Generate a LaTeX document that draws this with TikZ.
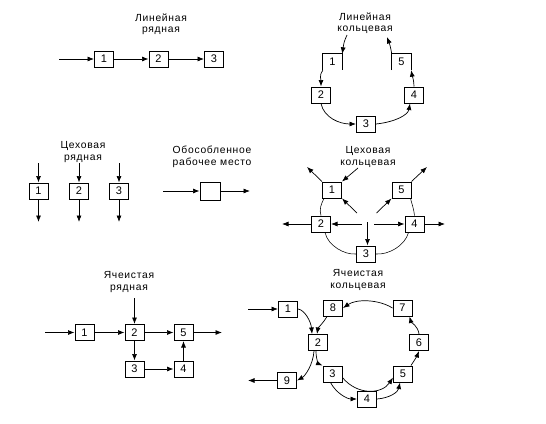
\documentclass[tikz,border=0pt]{standalone}
\usepackage{fontspec}
\setmainfont{Liberation Sans}
\newfontfamily\ttlfont[LetterSpace=7]{Liberation Sans}
\usetikzlibrary{arrows.meta}
\begin{document}
\begin{tikzpicture}[x=1pt,y=-1pt,
  box/.style={draw,line width=1pt,minimum width=19pt,minimum height=16pt,inner sep=0pt,font=\fontsize{11}{11}\selectfont},
  obox/.style={minimum width=19pt,minimum height=16pt,inner sep=0pt,font=\fontsize{11}{11}\selectfont},
  ttl/.style={align=center,inner sep=0pt,font=\ttlfont\fontsize{10.3}{11.5}\selectfont},
  arr/.style={line width=0.7pt,-{Latex[length=6.5pt,width=5pt]}},
  arcline/.style={line width=0.55pt},
  oline/.style={line width=1pt},
]
\fill[white] (0,0) rectangle (546,423);
\useasboundingbox (0,0) rectangle (546,423);

% ---------- Линейная рядная ----------
\node[ttl] (t1) at (161,24) {Линейная\\рядная};
\node[box] (a1) at (104,59) {1};
\node[box] (a2) at (158.5,59) {2};
\node[box] (a3) at (214,59) {3};
\coordinate (a0) at (59,59);
\draw[arr] (a0) -- (a1);
\draw[arr] (a1) -- (a2);
\draw[arr] (a2) -- (a3);

% ---------- Линейная кольцевая ----------
\node[ttl] (t2) at (365,23) {Линейная\\кольцевая};
\node[obox] (b1) at (332.5,62) {1};
\node[obox] (b5) at (401.5,62) {5};
\draw[oline] (b1.south west) -- (b1.north west) -- (b1.north east) -- (b1.south east);
\draw[oline] (b5.south west) -- (b5.north west) -- (b5.north east) -- (b5.south east);
\node[box] (b2) at (321,95) {2};
\node[box] (b4) at (414,95) {4};
\node[box] (b3) at (366,124) {3};
\coordinate (bin) at (347,35);
\coordinate (bout) at (387,37);
\draw[arr] (bin) .. controls (344,42) .. (b1.north east);
\draw[arr] (b5.north west) .. controls (390,45) .. (bout);
\draw[arr] (b1.south west) .. controls (319,75) and (321,80) .. (b2.north);
\draw[arr] (b2.south) .. controls (324,118) and (340,124) .. (b3.west);
\draw[arr] (b3.east) .. controls (395,122) and (408,115) .. ([xshift=-4pt]b4.south);
\draw[arr] (b4.north) .. controls (414,80) and (412,75) .. (b5.south east);

% ---------- Цеховая рядная ----------
\node[ttl] (t3) at (83,152) {Цеховая\\рядная};
\node[box] (c1) at (38.5,191) {1};
\node[box] (c2) at (79,191) {2};
\node[box] (c3) at (119,191) {3};
\foreach \n/\x in {c1/38.5,c2/79,c3/119}{
  \coordinate (\n i) at (\x,163);
  \coordinate (\n o) at (\x,222);
  \draw[arr] (\n i) -- (\n);
  \draw[arr] (\n) -- (\n o);
}

% ---------- Обособленное рабочее место ----------
\node[ttl] (t4) at (212,157) {Обособленное\\рабочее место};
\node[box,minimum width=20pt,minimum height=18pt] (d) at (210,191) {};
\coordinate (din) at (163,191);
\coordinate (dout) at (250,191);
\draw[arr] (din) -- (d);
\draw[arr] (d) -- (dout);

% ---------- Цеховая кольцевая ----------
\node[ttl] (t5) at (368,157) {Цеховая\\кольцевая};
\node[box] (e1) at (332,190) {1};
\node[box] (e5) at (401.5,190) {5};
\node[box] (e2) at (321,224) {2};
\node[box] (e4) at (414.5,224) {4};
\node[box] (e3) at (366,254) {3};
\coordinate (ein) at (358,168);
\coordinate (eo1) at (307,167);
\coordinate (eo5) at (427,167);
\coordinate (eo2) at (282,224);
\coordinate (eo4) at (445,224);
\coordinate (h2) at (361.5,224);
\coordinate (h4) at (374,224);
\coordinate (h3) at (367.5,222);
\coordinate (h1) at (357,213);
\coordinate (h5) at (376.5,213);
\draw[arr] (ein) -- (e1.north east);
\draw[arr] (e1.north west) -- (eo1);
\draw[arr] (e5.north east) -- (eo5);
\draw[arr] (e2) -- (eo2);
\draw[arr] (e4) -- (eo4);
\draw[arr] (h2) -- (e2);
\draw[arr] (h4) -- (e4);
\draw[arr] (h3) -- (h3 |- e3.north);
\draw[arr] (h1) -- (e1.south east);
\draw[arr] (h5) -- (e5.south west);
\draw[arcline] ([xshift=2pt]e1.south west) .. controls (321,204) and (319,210) .. (e2.north);
\draw[arcline] ([xshift=-1pt]e5.south east) .. controls (412,204) and (414,210) .. (e4.north);
\draw[arcline] ([xshift=4pt]e2.south) .. controls (328,246) and (345,255) .. (e3.west);
\draw[arcline] ([xshift=-6pt]e4.south) .. controls (405,246) and (388,255) .. (e3.east);

% ---------- Ячеистая рядная ----------
\node[ttl] (t6) at (129,282) {Ячеистая\\рядная};
\node[box] (f1) at (84.5,332.5) {1};
\node[box] (f2) at (134.5,332.5) {2};
\node[box] (f5) at (183.5,332.5) {5};
\node[box] (f3) at (134.5,369) {3};
\node[box] (f4) at (183.5,369) {4};
\coordinate (fin) at (45,332.5);
\coordinate (ftop) at (134.5,298);
\coordinate (fout) at (222,332.5);
\draw[arr] (fin) -- (f1);
\draw[arr] (ftop) -- (f2);
\draw[arr] (f1) -- (f2);
\draw[arr] (f2) -- (f5);
\draw[arr] (f5) -- (fout);
\draw[arr] (f2) -- (f3);
\draw[arr] (f3) -- (f4);
\draw[arr] (f4) -- (f5);

% ---------- Ячеистая кольцевая ----------
\node[ttl] (t7) at (358,280) {Ячеистая\\кольцевая};
\node[box] (g1) at (288,309) {1};
\node[box] (g8) at (333,308) {8};
\node[box] (g7) at (402.5,308) {7};
\node[box] (g2) at (318,342.5) {2};
\node[box] (g6) at (419,342.5) {6};
\node[box] (g3) at (332.5,374) {3};
\node[box] (g5) at (403,374) {5};
\node[box] (g9) at (287,380.5) {9};
\node[box] (g4) at (367,399) {4};
\coordinate (gin) at (248,309);
\coordinate (gout) at (248,380.5);
\draw[arr] (gin) -- (g1);
\draw[arr] (g1.east) .. controls (305,310) and (311,322) .. ([xshift=-6pt]g2.north);
\draw[arr] ([xshift=-6pt]g8.south) .. controls (324,322) and (318,328) .. ([xshift=-1pt]g2.north);
\draw[arr] (g7.west) .. controls (378,299) and (356,299) .. (g8.east);
\draw[arr] (g6.north) .. controls (418,326) and (411,322) .. ([xshift=7pt]g7.south);
\draw[arr] ([xshift=-2pt]g5.north east) .. controls (414,361) and (417,356) .. (g6.south);
\draw[arr] (g3.-20) .. controls (358,396) and (382,394) .. (g5.-160);
\draw[arr] ([xshift=-2pt]g3.south) .. controls (336,393) and (347,399) .. (g4.west);
\draw[arr] (g4.east) .. controls (390,398) and (398,392) .. ([xshift=-3pt]g5.south);
\draw[arr] ([xshift=-2pt]g2.south) .. controls (316,360) and (319,364) .. (g3.north west);
\draw[arr] ([xshift=-4pt]g2.south) .. controls (313,365) and (305,376) .. (g9.east);
\draw[arr] (g9) -- (gout);
\end{tikzpicture}
\end{document}
